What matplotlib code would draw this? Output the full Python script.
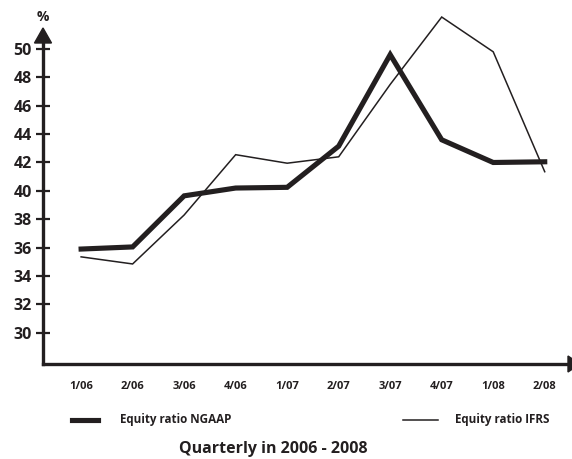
import matplotlib
matplotlib.use('Agg')
import matplotlib.pyplot as plt
from matplotlib.patches import Polygon

plt.rcParams['font.family'] = ['Open Sans', 'DejaVu Sans']

# === Data
quarters = ['1/06', '2/06', '3/06', '4/06', '1/07', '2/07', '3/07', '4/07', '1/08', '2/08']
ngaap = [35.9, 36.05, 39.65, 40.2, 40.25, 43.15, 49.6, 43.6, 42.0, 42.05]
ifrs = [35.35, 34.85, 38.3, 42.55, 41.95, 42.4, 47.5, 52.25, 49.8, 41.35]
yticks = [30, 32, 34, 36, 38, 40, 42, 44, 46, 48, 50]

ink = '#231f20'
W, H = 572, 459


def fx(px):
    return px / W


def fy(py):
    return 1 - py / H


fig = plt.figure(figsize=(5.72, 4.59), dpi=100)
ax = fig.add_axes([fx(43), fy(364), (571 - 43) / W, 364 / H])

x = list(range(len(quarters)))
ax.plot(x, ngaap, color=ink, lw=3.7, solid_joinstyle='miter', clip_on=False)
ax.plot(x, ifrs, color=ink, lw=1.1, solid_joinstyle='miter', clip_on=False)

ax.set_xlim(-0.74, 9.51)
ax.set_ylim(27.8, 53.45)

for s in ['top', 'right']:
    ax.spines[s].set_visible(False)
for s in ['left', 'bottom']:
    ax.spines[s].set_linewidth(2.4)
    ax.spines[s].set_color(ink)
ax.spines['left'].set_bounds(27.8, 51.0)

ax.set_yticks(yticks)
ax.set_yticklabels([str(v) for v in yticks], fontsize=11.5, fontweight='bold', color=ink)
ax.tick_params(axis='y', direction='inout', length=10, width=1.6, color=ink, pad=3)
ax.set_xticks(x)
ax.set_xticklabels(quarters, fontsize=8, fontweight='bold', color=ink)
ax.tick_params(axis='x', length=0, pad=12)

# Axis arrows (pixel positions of the original drawing)
fig.add_artist(Polygon([(fx(34.5), fy(43)), (fx(51.5), fy(43)), (fx(43), fy(28))],
                       closed=True, color=ink, transform=fig.transFigure))
fig.add_artist(Polygon([(fx(568), fy(356)), (fx(568), fy(372)), (fx(580), fy(364))],
                       closed=True, color=ink, transform=fig.transFigure, clip_on=False))

fig.text(fx(43), fy(17), '%', fontsize=10, fontweight='bold', color=ink, ha='center', va='center')

# Legend
fig.add_artist(plt.Line2D([fx(72), fx(98)], [fy(420)] * 2, color=ink, lw=3.7))
fig.text(fx(120), fy(420), 'Equity ratio NGAAP', fontsize=8.4, fontweight='bold', color=ink, va='center')
fig.add_artist(plt.Line2D([fx(403), fx(438)], [fy(420)] * 2, color=ink, lw=1.1))
fig.text(fx(455), fy(420), 'Equity ratio IFRS', fontsize=8.4, fontweight='bold', color=ink, va='center')

fig.text(fx(273), fy(449), 'Quarterly in 2006 - 2008', fontsize=11.5, fontweight='bold',
         color=ink, ha='center', va='center')

plt.savefig('out.png', dpi=100)
